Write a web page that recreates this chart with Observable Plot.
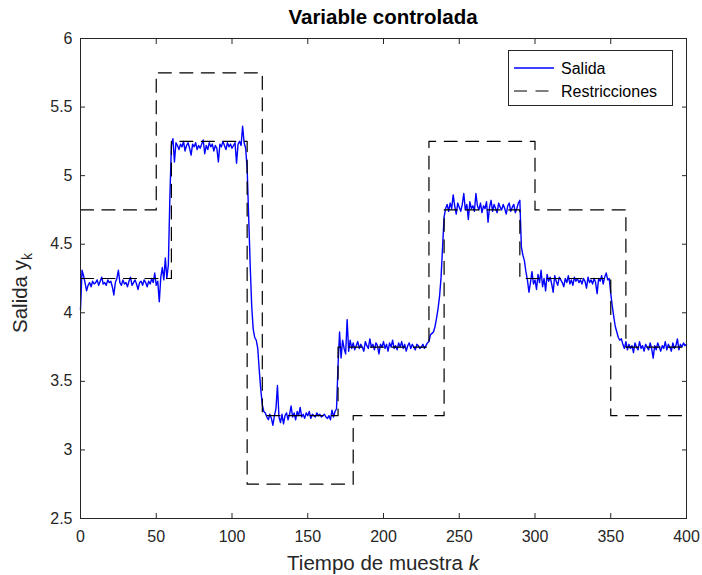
<!DOCTYPE html>
<html><head><meta charset="utf-8">
<script src="https://cdn.jsdelivr.net/npm/d3@7"></script>
<script src="https://cdn.jsdelivr.net/npm/@observablehq/plot@0.6"></script>
<style>body{margin:0;background:#fff} #chart{width:702px;height:575px}</style>
</head><body><div id="chart"></div>
<script>
// Salida (output) y_k for k = 0..400
const salida = [
4.02,4.31,4.27,4.22,4.16,4.20,4.22,4.19,4.23,4.21,
4.22,4.24,4.20,4.23,4.26,4.21,4.22,4.20,4.24,4.22,
4.23,4.19,4.13,4.22,4.25,4.31,4.22,4.20,4.24,4.21,
4.22,4.19,4.23,4.26,4.20,4.22,4.24,4.21,4.17,4.22,
4.23,4.20,4.24,4.22,4.19,4.23,4.21,4.25,4.22,4.29,
4.20,4.23,4.08,4.26,4.33,4.24,4.40,4.25,4.35,4.85,
5.22,5.27,5.10,5.24,5.22,5.19,5.23,5.21,5.25,5.18,
5.22,5.24,5.20,5.15,5.23,5.21,5.24,5.19,5.22,5.20,
5.23,5.26,5.16,5.22,5.19,5.24,5.21,5.23,5.18,5.22,
5.20,5.10,5.23,5.21,5.25,5.22,5.19,5.24,5.21,5.23,
5.20,5.22,5.24,5.09,5.23,5.25,5.22,5.36,5.24,5.20,
5.05,4.70,4.35,4.05,3.88,3.82,3.80,3.74,3.58,3.44,
3.33,3.28,3.27,3.24,3.22,3.26,3.23,3.18,3.25,3.30,
3.47,3.24,3.20,3.26,3.19,3.25,3.27,3.22,3.26,3.32,
3.24,3.27,3.22,3.28,3.25,3.31,3.24,3.26,3.23,3.27,
3.25,3.28,3.23,3.26,3.25,3.24,3.27,3.25,3.26,3.24,
3.25,3.26,3.24,3.23,3.25,3.22,3.29,3.24,3.28,3.30,
3.62,3.86,3.67,3.80,3.74,3.70,3.95,3.72,3.80,3.74,
3.78,3.73,3.76,3.79,3.74,3.77,3.75,3.72,3.79,3.76,
3.74,3.81,3.75,3.77,3.73,3.78,3.76,3.70,3.77,3.75,
3.79,3.74,3.77,3.72,3.78,3.75,3.80,3.74,3.76,3.73,
3.78,3.75,3.79,3.74,3.77,3.72,3.76,3.78,3.74,3.77,
3.75,3.73,3.77,3.76,3.74,3.75,3.77,3.74,3.76,3.78,
3.79,3.84,3.85,3.86,3.90,3.96,4.03,4.12,4.26,4.48,
4.70,4.76,4.79,4.74,4.80,4.76,4.86,4.78,4.72,4.80,
4.77,4.74,4.79,4.87,4.75,4.79,4.68,4.81,4.76,4.78,
4.74,4.87,4.78,4.75,4.80,4.73,4.78,4.76,4.81,4.66,
4.77,4.82,4.74,4.79,4.76,4.73,4.80,4.77,4.75,4.79,
4.76,4.72,4.78,4.80,4.74,4.77,4.79,4.73,4.76,4.80,
4.82,4.48,4.42,4.38,4.30,4.24,4.15,4.22,4.30,4.21,
4.24,4.17,4.28,4.22,4.31,4.19,4.25,4.16,4.28,4.23,
4.26,4.21,4.15,4.27,4.23,4.20,4.26,4.24,4.22,4.19,
4.25,4.22,4.27,4.21,4.24,4.20,4.26,4.23,4.25,4.22,
4.24,4.21,4.25,4.23,4.18,4.26,4.22,4.24,4.21,4.25,
4.22,4.14,4.25,4.23,4.27,4.21,4.26,4.29,4.24,4.25,
4.14,4.05,3.97,3.90,3.86,3.82,3.80,3.81,3.77,3.74,
3.79,3.73,3.77,3.74,3.76,3.71,3.78,3.75,3.73,3.79,
3.74,3.76,3.72,3.77,3.75,3.73,3.78,3.74,3.67,3.76,
3.73,3.78,3.75,3.72,3.76,3.74,3.79,3.73,3.77,3.75,
3.72,3.78,3.74,3.76,3.81,3.73,3.77,3.75,3.78,3.76,
3.77
];
// Restricciones: step breakpoints
const upperK = [0, 50, 120, 170, 230, 300, 360, 400];
const upperV = [4.75, 5.75, 3.25, 3.75, 5.25, 4.75, 3.75, 3.75];
const lowerK = [0, 60, 110, 180, 240, 290, 350, 400];
const lowerV = [4.25, 5.25, 2.75, 3.25, 4.75, 4.25, 3.25, 3.25];
const xTicks = [0, 50, 100, 150, 200, 250, 300, 350, 400];
const yTicks = [2.5, 3, 3.5, 4, 4.5, 5, 5.5, 6];
const titleText = "Variable controlada";
const xLabelText = "Tiempo de muestra ";
const xLabelItalic = "k";
const yLabelText = "Salida y";
const yLabelSub = "k";
const legendNames = ["Salida", "Restricciones"];

const salidaData = salida.map((v, i) => ({k: i, y: v}));
const restr = [
  ...upperK.map((k, i) => ({k, v: upperV[i], s: "upper"})),
  ...lowerK.map((k, i) => ({k, v: lowerV[i], s: "lower"}))
];

const axisColor = "#262626";
const dash = "13,8.5";
const font = "'Liberation Sans', Arial, Helvetica, sans-serif";

const chart = Plot.plot({
  width: 702, height: 575,
  marginLeft: 80, marginRight: 16, marginTop: 38, marginBottom: 57,
  style: {fontFamily: font, fontSize: "16px", color: axisColor, background: "white", overflow: "visible"},
  x: {domain: [0, 400]},
  y: {domain: [2.5, 6]},
  marks: [
    Plot.line(salidaData, {x: "k", y: "y", stroke: "#0000ff", strokeWidth: 1.4}),
    Plot.line(restr, {x: "k", y: "v", z: "s", curve: "step-after", stroke: "black", strokeWidth: 1.2, strokeDasharray: dash}),
    Plot.frame({stroke: axisColor, strokeWidth: 1}),
    Plot.axisX({ticks: xTicks, tickSize: -5, tickPadding: 17, label: null, tickFormat: d => String(d), stroke: axisColor, fill: axisColor}),
    Plot.axisX({anchor: "top", ticks: xTicks, tickSize: -5, label: null, tickFormat: () => "", stroke: axisColor}),
    Plot.axisY({ticks: yTicks, tickSize: -5, tickPadding: 13, label: null, tickFormat: d => String(d), stroke: axisColor, fill: axisColor}),
    Plot.axisY({anchor: "right", ticks: yTicks, tickSize: -5, label: null, tickFormat: () => "", stroke: axisColor})
  ]
});
document.getElementById("chart").appendChild(chart);

const svg = d3.select(chart);
// Title
svg.append("text").attr("x", 383).attr("y", 24).attr("text-anchor", "middle")
  .attr("font-family", font).attr("font-size", 20.5).attr("font-weight", "bold").attr("fill", "black")
  .text(titleText);
// X label
const xl = svg.append("text").attr("x", 383).attr("y", 570).attr("text-anchor", "middle")
  .attr("font-family", font).attr("font-size", 20.5).attr("fill", axisColor);
xl.append("tspan").text(xLabelText);
xl.append("tspan").attr("font-style", "italic").text(xLabelItalic);
// Y label
const yl = svg.append("text").attr("transform", "translate(27,293) rotate(-90)").attr("text-anchor", "middle")
  .attr("font-family", font).attr("font-size", 20.5).attr("fill", axisColor);
yl.append("tspan").text(yLabelText);
yl.append("tspan").attr("font-size", 14).attr("dy", 5).text(yLabelSub);
// Legend
const lg = svg.append("g");
lg.append("rect").attr("x", 508.5).attr("y", 50.5).attr("width", 164).attr("height", 55)
  .attr("fill", "white").attr("stroke", axisColor).attr("stroke-width", 1);
lg.append("line").attr("x1", 514).attr("x2", 554).attr("y1", 68).attr("y2", 68)
  .attr("stroke", "#0000ff").attr("stroke-width", 1.4);
lg.append("line").attr("x1", 514).attr("x2", 554).attr("y1", 91).attr("y2", 91)
  .attr("stroke", "black").attr("stroke-width", 1.2).attr("stroke-dasharray", dash);
legendNames.forEach((name, i) => {
  lg.append("text").attr("x", 561).attr("y", 68 + i * 23).attr("dy", "0.35em")
    .attr("text-anchor", "start")
    .attr("font-family", font).attr("font-size", 16).attr("fill", "black").text(name);
});
</script>
</body></html>
